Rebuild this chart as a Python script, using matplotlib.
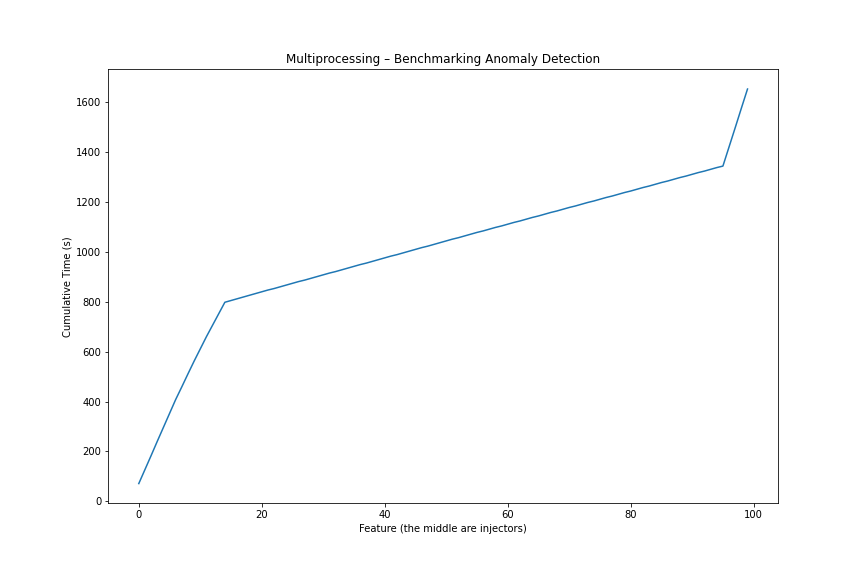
import matplotlib
matplotlib.use("Agg")
import matplotlib.pyplot as plt

features = list(range(100))
cumulative_time = [
    71, 127, 183, 240, 296, 352, 408, 459, 511, 562,
    611, 660, 706, 752, 798, 805, 812, 819, 826, 833,
    840, 847, 853, 860, 867, 874, 881, 887, 894, 901,
    908, 915, 921, 928, 935, 942, 949, 955, 962, 969,
    976, 983, 989, 996, 1003, 1010, 1017, 1023, 1030, 1037,
    1044, 1051, 1057, 1064, 1071, 1078, 1084, 1091, 1098, 1104,
    1111, 1118, 1124, 1131, 1138, 1144, 1151, 1158, 1164, 1171,
    1178, 1184, 1191, 1198, 1204, 1211, 1218, 1224, 1231, 1238,
    1244, 1251, 1258, 1264, 1271, 1278, 1284, 1291, 1298, 1304,
    1311, 1318, 1324, 1331, 1338, 1344, 1421, 1498, 1576, 1653,
]

fig = plt.figure(figsize=(12, 8), dpi=72)
ax = fig.add_axes([0.1254, 0.1262, 0.775, 0.7535])
ax.plot(features, cumulative_time, color="#1f77b4")
ax.set_title("Multiprocessing – Benchmarking Anomaly Detection")
ax.set_xlabel("Feature (the middle are injectors)")
ax.set_ylabel("Cumulative Time (s)")
fig.savefig("out.png", dpi=72)
